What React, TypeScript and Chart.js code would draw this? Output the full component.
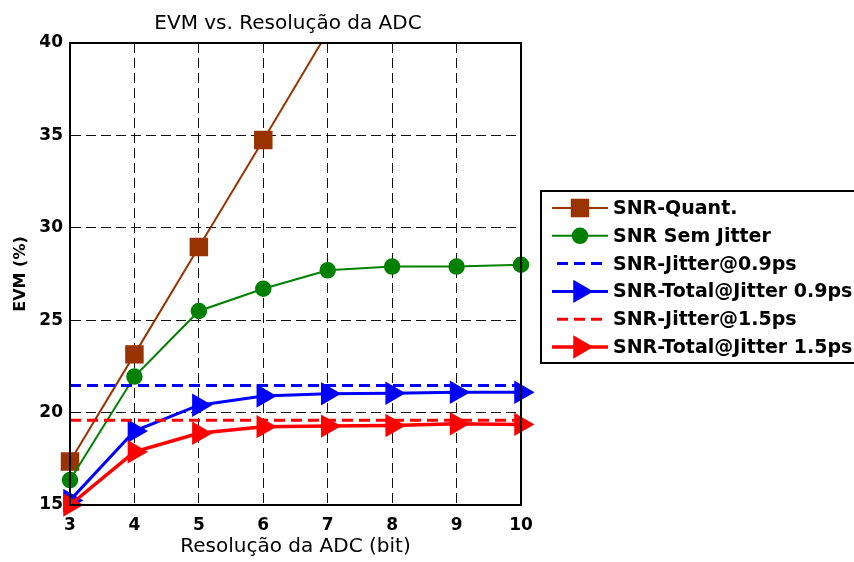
import React, { useEffect, useRef } from "react";
import { Chart, registerables } from "chart.js";

Chart.register(...registerables);

// ADC resolution (bits) on the horizontal axis
const resolutionBits = [3, 4, 5, 6, 7, 8, 9, 10];

// EVM (%) for each curve
const snrQuant = [17.35, 23.15, 28.96, 34.75, 40.6];
const snrSemJitter = [16.35, 21.95, 25.5, 26.7, 27.7, 27.9, 27.9, 28.0];
const snrJitter09 = [21.47, 21.47, 21.47, 21.47, 21.47, 21.47, 21.47, 21.47];
const snrTotal09 = [15.25, 19.0, 20.4, 20.9, 21.02, 21.05, 21.1, 21.1];
const snrJitter15 = [19.58, 19.58, 19.58, 19.58, 19.58, 19.58, 19.58, 19.58];
const snrTotal15 = [15.0, 17.88, 18.88, 19.24, 19.27, 19.3, 19.4, 19.36];

const seriesLabels = [
  "SNR-Quant.",
  "SNR Sem Jitter",
  "SNR-Jitter@0.9ps",
  "SNR-Total@Jitter 0.9ps",
  "SNR-Jitter@1.5ps",
  "SNR-Total@Jitter 1.5ps",
];

const xTicks = resolutionBits;
const yTicks = [15, 20, 25, 30, 35, 40];

const chartTitle = "EVM vs. Resolução da ADC";
const xTitle = "Resolução da ADC (bit)";
const yTitle = "EVM (%)";

const FONT = "'DejaVu Sans', Verdana, sans-serif";
const BROWN = "#993300";
const GREEN = "#008000";
const BLUE = "#0000ff";
const RED = "#ff0000";

const toPoints = (vals: number[]) =>
  vals.map((v, i) => ({ x: resolutionBits[i], y: v }));

function drawMarker(
  ctx: CanvasRenderingContext2D,
  style: string,
  x: number,
  y: number,
  r: number,
  color: string,
  edge: number
) {
  ctx.save();
  ctx.fillStyle = color;
  ctx.strokeStyle = color;
  ctx.lineWidth = edge;
  ctx.lineJoin = "miter";
  ctx.setLineDash([]);
  ctx.beginPath();
  if (style === "rect") {
    const s = r * Math.SQRT1_2;
    ctx.rect(x - s, y - s, 2 * s, 2 * s);
  } else if (style === "circle") {
    ctx.arc(x, y, r, 0, Math.PI * 2);
  } else if (style === "triangle") {
    ctx.moveTo(x + r, y);
    ctx.lineTo(x - r / 2, y + 0.866 * r);
    ctx.lineTo(x - r / 2, y - 0.866 * r);
    ctx.closePath();
  }
  ctx.fill();
  ctx.stroke();
  ctx.restore();
}

// Axes box, title and the boxed legend on the right
const decorPlugin = {
  id: "decor",
  afterDatasetsDraw(chart: any) {
    const { ctx, chartArea } = chart;
    ctx.save();
    ctx.strokeStyle = "#000";
    ctx.lineWidth = 2;
    ctx.setLineDash([]);
    ctx.strokeRect(
      chartArea.left,
      chartArea.top,
      chartArea.right - chartArea.left,
      chartArea.bottom - chartArea.top
    );
    ctx.restore();
  },
  afterDraw(chart: any) {
    const { ctx } = chart;
    ctx.save();
    ctx.fillStyle = "#000";
    ctx.font = `20px ${FONT}`;
    ctx.textAlign = "center";
    ctx.textBaseline = "middle";
    ctx.fillText(chartTitle, 288, 24);

    // legend box
    const bx = 541;
    const by = 191;
    ctx.fillStyle = "#fff";
    ctx.fillRect(bx, by, 340, 172);
    ctx.strokeStyle = "#000";
    ctx.lineWidth = 2;
    ctx.strokeRect(bx, by, 340, 172);

    chart.data.datasets.forEach((ds: any, i: number) => {
      const y = 208 + i * 27.8;
      ctx.save();
      ctx.strokeStyle = ds.borderColor;
      ctx.lineWidth = ds.borderWidth;
      ctx.setLineDash(ds.borderDash || []);
      ctx.beginPath();
      ctx.moveTo(ds.borderDash ? 557 : 552, y);
      ctx.lineTo(608, y);
      ctx.stroke();
      ctx.restore();
      if (ds.pointRadius > 0) {
        drawMarker(
          ctx,
          ds.pointStyle,
          580,
          y,
          ds.pointRadius,
          ds.borderColor,
          ds.pointBorderWidth
        );
      }
      ctx.fillStyle = "#000";
      ctx.font = `bold 19px ${FONT}`;
      ctx.textAlign = "left";
      ctx.textBaseline = "middle";
      ctx.fillText(ds.label, 613, y + 1);
    });
    ctx.restore();
  },
};

export default function App() {
  const canvasRef = useRef<HTMLCanvasElement | null>(null);

  useEffect(() => {
    document.body.style.margin = "0";
    const canvas = canvasRef.current;
    if (!canvas) return;

    const tickFont = { family: FONT, size: 17, weight: "bold" as const };
    const gridStyle = {
      color: "#111",
      lineWidth: 1,
      drawTicks: false,
    };

    const chart = new Chart(canvas, {
      type: "line",
      data: {
        datasets: [
          {
            label: seriesLabels[0],
            data: toPoints(snrQuant),
            borderColor: BROWN,
            backgroundColor: BROWN,
            borderWidth: 2,
            pointStyle: "rect",
            pointRadius: 12,
            pointBorderWidth: 1.5,
            clip: { left: 30, right: 30, top: 0, bottom: 30 } as any,
            order: 10,
          },
          {
            label: seriesLabels[1],
            data: toPoints(snrSemJitter),
            borderColor: GREEN,
            backgroundColor: GREEN,
            borderWidth: 2,
            pointStyle: "circle",
            pointRadius: 7.5,
            pointBorderWidth: 1.5,
            clip: false as any,
            order: 9,
          },
          {
            label: seriesLabels[2],
            data: toPoints(snrJitter09),
            borderColor: BLUE,
            backgroundColor: BLUE,
            borderWidth: 3,
            borderDash: [11, 6],
            pointRadius: 0,
            clip: false as any,
            order: 8,
          },
          {
            label: seriesLabels[3],
            data: toPoints(snrTotal09),
            borderColor: BLUE,
            backgroundColor: BLUE,
            borderWidth: 3,
            pointStyle: "triangle",
            pointRotation: 90,
            pointRadius: 11.5,
            pointBorderWidth: 2,
            clip: false as any,
            order: 7,
          },
          {
            label: seriesLabels[4],
            data: toPoints(snrJitter15),
            borderColor: RED,
            backgroundColor: RED,
            borderWidth: 3,
            borderDash: [11, 6],
            pointRadius: 0,
            clip: false as any,
            order: 6,
          },
          {
            label: seriesLabels[5],
            data: toPoints(snrTotal15),
            borderColor: RED,
            backgroundColor: RED,
            borderWidth: 3.5,
            pointStyle: "triangle",
            pointRotation: 90,
            pointRadius: 11.5,
            pointBorderWidth: 2,
            clip: false as any,
            order: 5,
          },
        ],
      },
      options: {
        animation: false,
        responsive: false,
        devicePixelRatio: 1,
        layout: { padding: { top: 43, right: 333, left: 0, bottom: 0 } },
        plugins: {
          legend: { display: false },
          title: { display: false },
          tooltip: { enabled: false },
        },
        elements: { line: { tension: 0 } },
        scales: {
          x: {
            type: "linear",
            min: xTicks[0],
            max: xTicks[xTicks.length - 1],
            afterBuildTicks: (scale: any) => {
              scale.ticks = xTicks.map((v) => ({ value: v }));
            },
            afterFit: (scale: any) => {
              scale.height = 57;
            },
            ticks: {
              font: tickFont,
              color: "#000",
              padding: 10,
              maxRotation: 0,
              autoSkip: false,
            },
            grid: gridStyle,
            border: { display: true, color: "#000", width: 2, dash: [10, 5] },
            title: {
              display: true,
              text: xTitle,
              color: "#000",
              font: { family: FONT, size: 20 },
              padding: { top: 0, bottom: 3 },
            },
          },
          y: {
            type: "linear",
            min: yTicks[0],
            max: yTicks[yTicks.length - 1],
            afterBuildTicks: (scale: any) => {
              scale.ticks = yTicks.map((v) => ({ value: v }));
            },
            afterFit: (scale: any) => {
              scale.width = 70;
            },
            ticks: {
              font: tickFont,
              color: "#000",
              padding: 7,
              autoSkip: false,
            },
            grid: gridStyle,
            border: { display: true, color: "#000", width: 2, dash: [10, 5] },
            title: {
              display: true,
              text: yTitle,
              color: "#000",
              font: { family: FONT, size: 16, weight: "bold" },
              padding: { top: 11, bottom: 0 },
            },
          },
        },
      },
      plugins: [decorPlugin],
    });

    return () => chart.destroy();
  }, []);

  return (
    <div style={{ position: "absolute", left: 0, top: 0, width: 854, height: 562 }}>
      <canvas ref={canvasRef} width={854} height={562} />
    </div>
  );
}
